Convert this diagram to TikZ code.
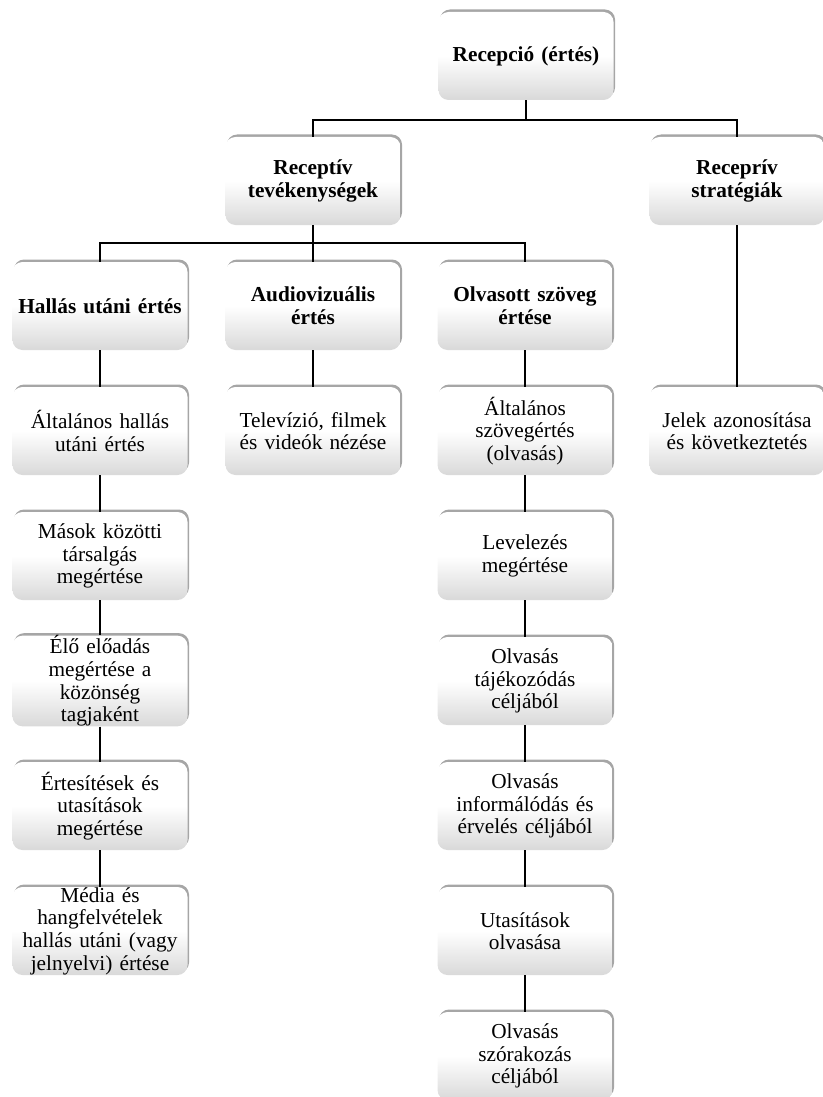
\documentclass[tikz,border=0pt]{standalone}
\usepackage{fontspec}
\setmainfont{Liberation Serif}
\usetikzlibrary{calc,shapes,shadows}
\usepackage{tikz}

\tikzset{
  box/.style = {rounded corners = 10pt, top color = white, bottom color = black!15, middle color = white,
                drop shadow = {shadow xshift = 1.5pt, shadow yshift = 2.5pt, opacity = 0.35, fill = black},
                minimum width = 175pt, minimum height = 88pt, text width = 170pt, align = center,
                inner sep = 0pt, font = \fontsize{21.3}{22.6}\selectfont},
  headbox/.style = {box, font = \fontsize{21.3}{22.6}\selectfont\bfseries},
  link/.style = {line width = 1.3pt}
}

\begin{document}
\begin{tikzpicture}[x = 1pt, y = -1pt]
  \useasboundingbox (0,0) rectangle (822,1097);

  \node [headbox] (recepcio) at (526,56) {Recepció (értés)};

  \node [headbox] (tevek) at (313,181) {Receptív\\tevékenységek};
  \node [headbox] (strat) at (737,181) {Receprív\\stratégiák};

  \node [headbox] (hallas) at (100,306) {Hallás utáni értés};
  \node [headbox] (audio) at (313,306) {Audiovizuális\\értés};
  \node [headbox] (olvas) at (525,306) {Olvasott szöveg\\értése};

  \node [box] (hall1) at (100,431) {Általános hallás\\utáni értés};
  \node [box] (hall2) at (100,556) {Mások közötti\\társalgás\\megértése};
  \node [box] (hall3) at (100,681) {Élő előadás\\megértése a\\közönség\\tagjaként};
  \node [box] (hall4) at (100,806) {Értesítések és\\utasítások\\megértése};
  \node [box] (hall5) at (100,931) {Média és\\hangfelvételek\\hallás utáni (vagy\\jelnyelvi) értése};

  \node [box] (audio1) at (313,431) {Televízió, filmek\\és videók nézése};

  \node [box] (olvas1) at (525,431) {Általános\\szövegértés\\(olvasás)};
  \node [box] (olvas2) at (525,556) {Levelezés\\megértése};
  \node [box] (olvas3) at (525,681) {Olvasás\\tájékozódás\\céljából};
  \node [box] (olvas4) at (525,806) {Olvasás\\informálódás és\\érvelés céljából};
  \node [box] (olvas5) at (525,931) {Utasítások\\olvasása};
  \node [box] (olvas6) at (525,1056) {Olvasás\\szórakozás\\céljából};

  \node [box] (strat1) at (737,431) {Jelek azonosítása\\és következtetés};

  \coordinate (bus1) at (526,120);
  \coordinate (bus2) at (313,243);

  \draw [link] (recepcio.south) -- (bus1) -| (tevek.north);
  \draw [link] (bus1) -| (strat.north);
  \draw [link] (tevek.south) -- (bus2) -| (hallas.north);
  \draw [link] (bus2) -| (olvas.north);
  \draw [link] (bus2) -- (audio.north);

  \draw [link] (hallas.south) -- (hall1.north);
  \draw [link] (hall1.south) -- (hall2.north);
  \draw [link] (hall2.south) -- (hall3.north);
  \draw [link] (hall3.south) -- (hall4.north);
  \draw [link] (hall4.south) -- (hall5.north);

  \draw [link] (audio.south) -- (audio1.north);

  \draw [link] (olvas.south) -- (olvas1.north);
  \draw [link] (olvas1.south) -- (olvas2.north);
  \draw [link] (olvas2.south) -- (olvas3.north);
  \draw [link] (olvas3.south) -- (olvas4.north);
  \draw [link] (olvas4.south) -- (olvas5.north);
  \draw [link] (olvas5.south) -- (olvas6.north);

  \draw [link] (strat.south) -- (strat1.north);
\end{tikzpicture}
\end{document}
